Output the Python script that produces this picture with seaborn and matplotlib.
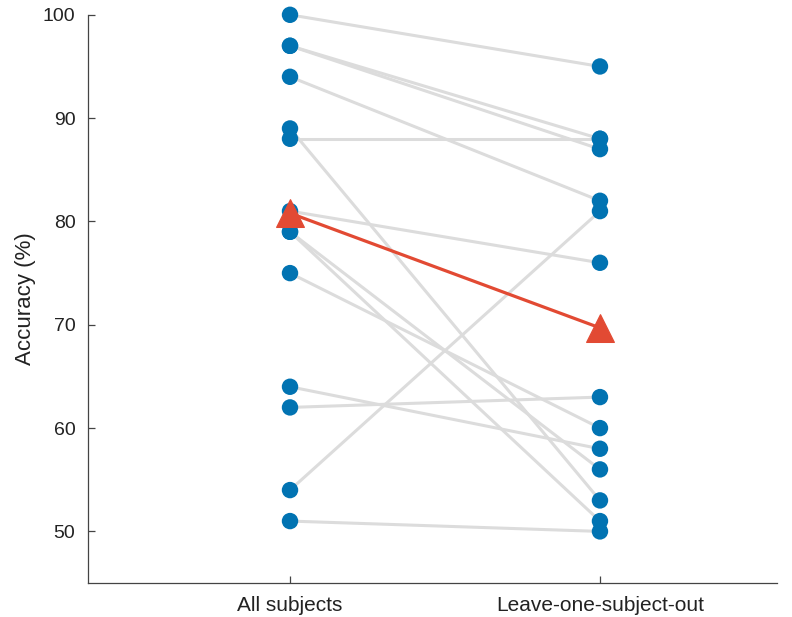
import numpy as np
import pandas as pd
import matplotlib
matplotlib.use("Agg")
import matplotlib.pyplot as plt
import seaborn as sns

# Data (one entry per subject)
conditions = ["All subjects", "Leave-one-subject-out"]
all_subjects = [100, 97, 97, 94, 89, 88, 81, 79, 79, 75, 64, 62, 54, 51]
leave_one_out = [95, 88, 87, 82, 53, 88, 76, 56, 51, 60, 58, 63, 81, 50]
summary_acc = [80.8, 69.7]

subjects = np.arange(len(all_subjects))
df = pd.DataFrame({
    "subject": np.concatenate([subjects, subjects]),
    "cond": np.repeat([0, 1], len(all_subjects)),
    "acc": all_subjects + leave_one_out,
})
summary = pd.DataFrame({"cond": [0, 1], "acc": summary_acc})

sns.set_style("ticks")
plt.rcParams["font.family"] = ["Liberation Sans", "DejaVu Sans"]

fig = plt.figure(figsize=(7.92, 6.17), dpi=100)
ax = fig.add_axes([0.111, 0.055, 0.87, 0.921])

# paired lines per subject
sns.lineplot(data=df, x="cond", y="acc", units="subject", estimator=None,
             color="#dcdcdc", linewidth=2.2, ax=ax, zorder=1, legend=False)
# subject points
sns.scatterplot(data=df, x="cond", y="acc", color="#0173b2", s=140,
                edgecolor="none", ax=ax, zorder=2, legend=False, clip_on=False)
# summary line with triangles
sns.lineplot(data=summary, x="cond", y="acc", color="#e24a33", linewidth=2.3,
             marker="^", markersize=20, markeredgecolor="#e24a33", ax=ax,
             zorder=3, legend=False)

ax.set_xlim(-0.652, 1.571)
ax.set_ylim(45, 100)
ax.set_xticks([0, 1])
ax.set_xticklabels(conditions)
ax.set_yticks([50, 60, 70, 80, 90, 100])
ax.set_xlabel("")
ax.set_ylabel("Accuracy (%)", fontsize=16, color="#222222", labelpad=5)
ax.tick_params(axis="both", colors="#444444", labelcolor="#222222",
               length=5, width=0.9, direction="in")
ax.tick_params(axis="x", labelsize=15, pad=9)
ax.tick_params(axis="y", labelsize=14, pad=9)
for side in ["left", "bottom"]:
    ax.spines[side].set_color("#444444")
    ax.spines[side].set_linewidth(0.9)
sns.despine(ax=ax)

fig.savefig("out.png", dpi=100)
